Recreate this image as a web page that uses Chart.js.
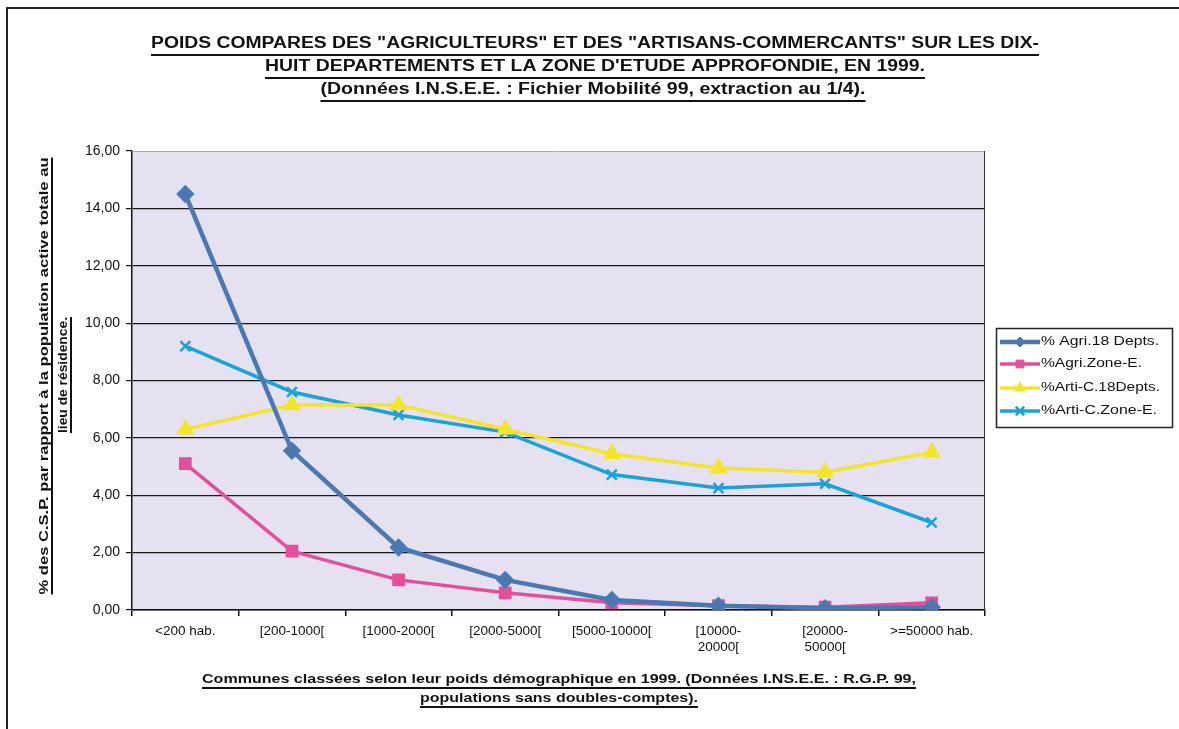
<!DOCTYPE html>
<html>
<head>
<meta charset="utf-8">
<script src="https://cdn.jsdelivr.net/npm/chart.js@4/dist/chart.umd.min.js"></script>
<style>
  html, body { margin: 0; padding: 0; background: #fff; }
  #wrap { width: 1179px; height: 729px; }
</style>
</head>
<body>
<div id="wrap"><canvas id="myChart" width="1179" height="729"></canvas></div>
<script>
// Catégories (communes classées selon leur poids démographique)
const categories = ['<200 hab.', '[200-1000[', '[1000-2000[', '[2000-5000[', '[5000-10000[',
  ['[10000-', '20000['], ['[20000-', '50000['], '>=50000 hab.'];

// Séries
const agri18Depts = [14.5, 5.55, 2.18, 1.05, 0.35, 0.15, 0.06, 0.1];
const agriZoneE = [5.1, 2.05, 1.05, 0.6, 0.25, 0.15, 0.1, 0.25];
const artiC18Depts = [6.3, 7.15, 7.15, 6.3, 5.45, 4.95, 4.8, 5.5];
const artiCZoneE = [9.2, 7.6, 6.8, 6.2, 4.72, 4.25, 4.4, 3.05];

const seriesNames = ['% Agri.18 Depts.', '%Agri.Zone-E.', '%Arti-C.18Depts.', '%Arti-C.Zone-E.'];

// Titres
const titleLines = [
  'POIDS COMPARES DES "AGRICULTEURS" ET DES "ARTISANS-COMMERCANTS" SUR LES DIX-',
  'HUIT DEPARTEMENTS ET LA ZONE D\'ETUDE APPROFONDIE, EN 1999.',
  '(Données I.N.S.E.E. : Fichier Mobilité 99, extraction au 1/4).'
];
const yTitleLines = ['% des C.S.P. par rapport à la population active totale au', 'lieu de résidence.'];
const xTitleLines = ['Communes classées selon leur poids démographique en 1999. (Données I.NS.E.E. : R.G.P. 99,',
  'populations sans doubles-comptes).'];

const FONT = '"Liberation Sans", Arial, sans-serif';

// texte étiré/compressé à une largeur donnée, avec soulignement
function fitText(ctx, text, cx, cy, width, font, underlineGap) {
  ctx.save();
  ctx.font = font;
  ctx.fillStyle = '#111';
  ctx.textAlign = 'center';
  ctx.textBaseline = 'middle';
  const w = ctx.measureText(text).width;
  ctx.translate(cx, cy);
  ctx.scale(width / w, 1);
  ctx.fillText(text, 0, 0);
  ctx.restore();
  if (underlineGap) {
    ctx.save();
    ctx.strokeStyle = '#111';
    ctx.lineWidth = 2;
    ctx.beginPath();
    ctx.moveTo(cx - width / 2, cy + underlineGap);
    ctx.lineTo(cx + width / 2, cy + underlineGap);
    ctx.stroke();
    ctx.restore();
  }
}

const decor = {
  id: 'decor',
  beforeDraw(chart) {
    const ctx = chart.ctx;
    const a = chart.chartArea;
    ctx.save();
    ctx.fillStyle = '#fff';
    ctx.fillRect(0, 0, chart.width, chart.height);
    ctx.fillStyle = '#E5E1F1';
    ctx.fillRect(a.left, a.top, a.right - a.left, a.bottom - a.top);
    ctx.restore();
  },
  beforeDatasetsDraw(chart) {
    const ctx = chart.ctx;
    const a = chart.chartArea;
    ctx.save();
    ctx.strokeStyle = '#aaa';
    ctx.lineWidth = 1;
    ctx.beginPath();
    ctx.moveTo(a.left, a.top + 0.5);
    ctx.lineTo(a.right, a.top + 0.5);
    ctx.stroke();
    ctx.strokeStyle = '#333';
    ctx.beginPath();
    ctx.moveTo(a.right - 0.5, a.top);
    ctx.lineTo(a.right - 0.5, a.bottom);
    ctx.stroke();
    ctx.restore();
  },
  afterDraw(chart) {
    const ctx = chart.ctx;

    // cadre
    ctx.save();
    ctx.strokeStyle = '#222';
    ctx.lineWidth = 2;
    ctx.beginPath();
    ctx.moveTo(7, 729);
    ctx.lineTo(7, 8);
    ctx.lineTo(1179, 8);
    ctx.stroke();
    ctx.restore();

    // titre
    const tFont = 'bold 16px ' + FONT;
    fitText(ctx, titleLines[0], 595, 44, 888, tFont, 11);
    fitText(ctx, titleLines[1], 595, 67, 660, tFont, 11);
    fitText(ctx, titleLines[2], 593, 90, 545, tFont, 11);

    // titre axe y (après rotation : x' = -y, y' = x)
    ctx.save();
    ctx.rotate(-Math.PI / 2);
    fitText(ctx, yTitleLines[0], -376, 44, 437, 'bold 13px ' + FONT, 8);
    fitText(ctx, yTitleLines[1], -375, 63, 116, 'bold 13px ' + FONT, 8);
    ctx.restore();

    // titre axe x
    fitText(ctx, xTitleLines[0], 559, 679, 714, 'bold 13px ' + FONT, 9);
    fitText(ctx, xTitleLines[1], 559, 698, 278, 'bold 13px ' + FONT, 9);

    // légende
    ctx.save();
    ctx.strokeStyle = '#222';
    ctx.lineWidth = 1.5;
    ctx.strokeRect(996.5, 328.5, 176, 99);
    ctx.restore();
    const rows = [342, 364, 388, 411];
    const widths = [118, 101, 119, 116];
    chart.data.datasets.forEach((ds, i) => {
      const y = rows[i];
      ctx.save();
      ctx.strokeStyle = ds.borderColor;
      ctx.lineWidth = ds.borderWidth;
      ctx.beginPath();
      ctx.moveTo(1000, y);
      ctx.lineTo(1040, y);
      ctx.stroke();
      ctx.fillStyle = ds.pointBackgroundColor;
      ctx.strokeStyle = ds.pointBorderColor;
      ctx.lineWidth = ds.pointBorderWidth || 1;
      Chart.helpers.drawPoint(ctx, {
        pointStyle: ds.pointStyle,
        radius: ds.pointRadius - 1,
        borderWidth: ds.pointBorderWidth || 1,
        rotation: 0
      }, 1020, y);
      ctx.restore();
      ctx.save();
      ctx.font = '12px ' + FONT;
      ctx.fillStyle = '#111';
      ctx.textBaseline = 'middle';
      const w = ctx.measureText(ds.label).width;
      ctx.translate(1041, y);
      ctx.scale(widths[i] / w, 1);
      ctx.fillText(ds.label, 0, 0);
      ctx.restore();
    });
  }
};

const ctx = document.getElementById('myChart');
const myChart = new Chart(ctx, {
  type: 'line',
  data: {
    labels: categories,
    datasets: [{
      label: seriesNames[0],
      data: agri18Depts,
      borderColor: '#4A78B2',
      backgroundColor: '#4A78B2',
      pointBackgroundColor: '#4A78B2',
      pointBorderColor: '#4A78B2',
      borderWidth: 4.5,
      pointStyle: 'rectRot',
      pointRadius: 6,
      tension: 0
    }, {
      label: seriesNames[1],
      data: agriZoneE,
      borderColor: '#E2509C',
      backgroundColor: '#E2509C',
      pointBackgroundColor: '#E2509C',
      pointBorderColor: '#E2509C',
      borderWidth: 3.5,
      pointStyle: 'rect',
      pointRadius: 6.5,
      tension: 0
    }, {
      label: seriesNames[2],
      data: artiC18Depts,
      borderColor: '#F4E42A',
      backgroundColor: '#F4E42A',
      pointBackgroundColor: '#F4E42A',
      pointBorderColor: '#F4E42A',
      borderWidth: 3.5,
      pointStyle: 'triangle',
      pointRadius: 7,
      tension: 0
    }, {
      label: seriesNames[3],
      data: artiCZoneE,
      borderColor: '#1BA2D8',
      backgroundColor: '#1BA2D8',
      pointBackgroundColor: '#1BA2D8',
      pointBorderColor: '#1BA2D8',
      borderWidth: 3.5,
      pointStyle: 'crossRot',
      pointRadius: 7,
      pointBorderWidth: 2.5,
      tension: 0
    }]
  },
  options: {
    responsive: false,
    animation: false,
    devicePixelRatio: 1,
    layout: {
      padding: { left: 0, top: 151, right: 194, bottom: 0 }
    },
    plugins: {
      legend: { display: false },
      title: { display: false },
      tooltip: { enabled: false }
    },
    scales: {
      x: {
        offset: true,
        afterFit: s => { s.height = 119; },
        grid: {
          offset: true,
          drawOnChartArea: false,
          drawTicks: true,
          tickLength: 6,
          tickColor: '#111',
          lineWidth: 1.5
        },
        border: { color: '#111', width: 1.5 },
        ticks: {
          color: '#111',
          font: { family: FONT, size: 13.5 },
          padding: 7,
          maxRotation: 0,
          autoSkip: false
        }
      },
      y: {
        min: 0,
        max: 16,
        afterFit: s => { s.width = 132; },
        grid: {
          color: ctx => (ctx.tick && ctx.tick.value === 16) ? 'rgba(0,0,0,0)' : '#1a1a1a',
          lineWidth: 1.2,
          tickLength: 6,
          tickColor: '#111'
        },
        border: { color: '#111', width: 1.5 },
        ticks: {
          stepSize: 2,
          color: '#111',
          padding: 6,
          font: { family: FONT, size: 14 },
          callback: v => v.toFixed(2).replace('.', ',')
        }
      }
    }
  },
  plugins: [decor]
});
</script>
</body>
</html>
